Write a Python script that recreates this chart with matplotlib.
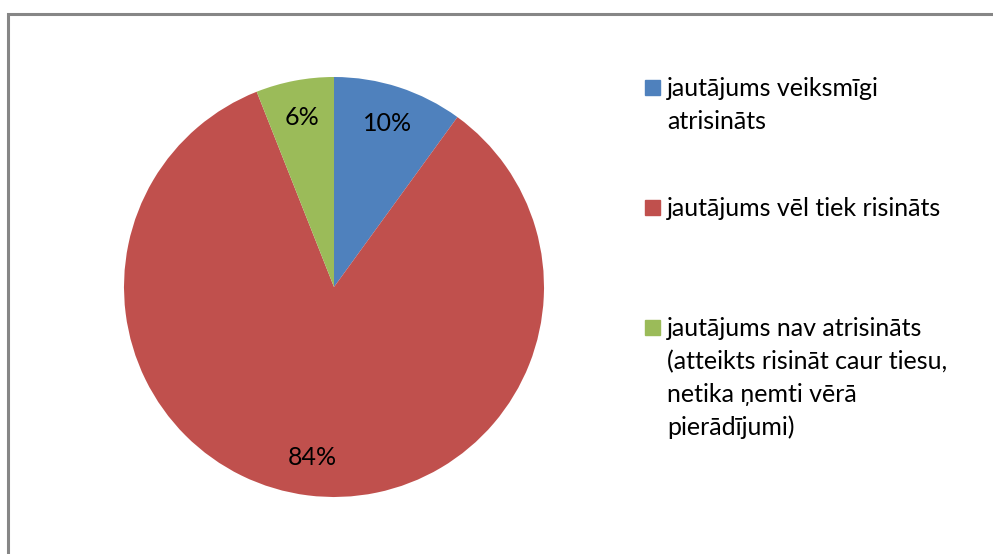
import matplotlib.pyplot as plt
from matplotlib.patches import Rectangle

# shares of the three outcomes, clockwise from 12 o'clock
labels = [
    "jautājums veiksmīgi\natrisināts",
    "jautājums vēl tiek risināts",
    "jautājums nav atrisināts\n(atteikts risināt caur tiesu,\nnetika ņemti vērā\npierādījumi)",
]
shares = [10, 84, 6]
colors = ["#4F81BD", "#C0504D", "#9BBB59"]

W, H = 993, 554
FONT = "Lato"
FS = 18

fig = plt.figure(figsize=(W / 100, H / 100), dpi=100)

# pie centred at (334, 287) px with radius 210 px
cx, cy, r = 334, 287, 210
ax = fig.add_axes([(cx - r) / W, (H - cy - r) / H, 2 * r / W, 2 * r / H])
wedges, texts, autotexts = ax.pie(
    shares, colors=colors, startangle=90, counterclock=False,
    autopct="%d%%", pctdistance=0.82, radius=1,
    textprops=dict(fontsize=FS, family=FONT, color="black"),
)
ax.set_xlim(-1, 1)
ax.set_ylim(-1, 1)
ax.set_aspect("equal")
ax.axis("off")

# chart frame (only top and left edges fall inside the image)
fig.patches.append(Rectangle((7.5 / W, -0.1), 1.2, (H - 13.5) / H + 0.1,
                             transform=fig.transFigure, fill=False,
                             edgecolor="#868686", linewidth=2.2))

# legend drawn by hand to follow the original spacing
item_tops = [80, 200, 320]
line_h = 33
for lab, col, top in zip(labels, colors, item_tops):
    fig.patches.append(Rectangle((645 / W, (H - top - 15) / H), 15 / W, 15 / H,
                                 transform=fig.transFigure, color=col))
    for i, line in enumerate(lab.split("\n")):
        fig.text(667 / W, (H - (top + 8.5 + i * line_h)) / H, line,
                 fontsize=FS, family=FONT, va="center", ha="left")

fig.savefig("out.png", dpi=100)
